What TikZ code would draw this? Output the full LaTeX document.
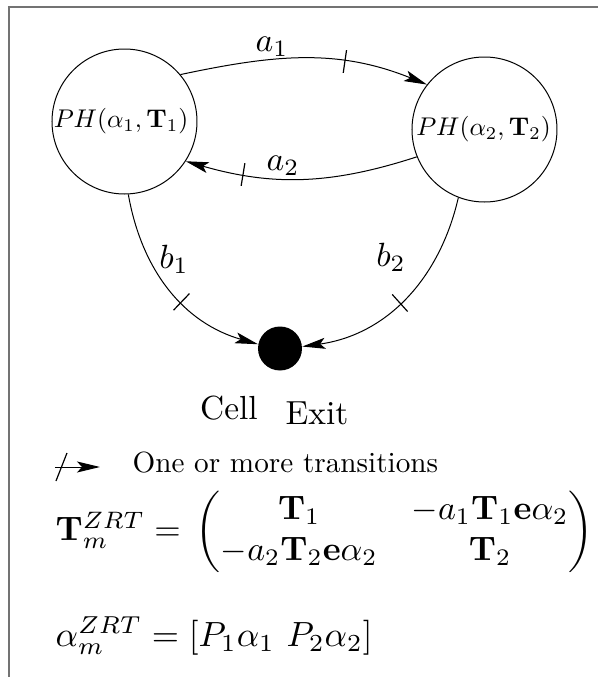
\documentclass[tikz,border=0pt]{standalone}
\usepackage{amsmath,amssymb}
\usepackage{pgf, tikz}
\usetikzlibrary{arrows.meta,decorations.markings}
\pgfdeclarelayer{edgelayer}
\pgfdeclarelayer{nodelayer}
\pgfsetlayers{edgelayer,nodelayer,main}
\tikzstyle{phase}=[circle, fill=white, draw=black, line width=0.5pt, minimum size=72.5pt, inner sep=0pt]
\tikzstyle{phasetext}=[inner sep=0pt, scale=1.28]
\tikzstyle{exitdot}=[circle, fill=black, minimum size=22pt, inner sep=0pt]
\tikzstyle{rate}=[inner sep=0pt, scale=1.68]
\tikzstyle{caption}=[inner sep=0pt, scale=1.67]
\tikzstyle{legendtext}=[inner sep=0pt, anchor=base west, scale=1.46]
\tikzstyle{formula}=[inner sep=0pt, anchor=west, scale=1.75]
\tikzstyle{edge}=[draw=black, line width=0.5pt, -{Stealth[length=11.5pt,width=5.5pt,inset=2.5pt]}]
\tikzstyle{frame}=[draw=black!55, line width=0.75pt]
\tikzset{ticked/.style={postaction={decorate}, decoration={markings, mark=at position #1 with {\draw[-,line width=0.6pt] (0,-5.75pt) -- (0,5.75pt);}}}}
\tikzset{slanttick/.style={postaction={decorate}, decoration={markings, mark=at position #1 with {\draw[-,line width=0.6pt] (-2.75pt,-7pt) -- (2.75pt,7pt);}}}}

\begin{document}
\begin{tikzpicture}[x=0.5pt,y=0.5pt]
	\useasboundingbox (0,0) rectangle (598,677);
	\draw [style=frame] (8,670) -- (598,670);
	\draw [style=frame] (9,670) -- (9,0);
	\begin{pgfonlayer}{nodelayer}
		\node [style=phase] (1) at (124.5, 555.5) {};
		\node [style=phase] (2) at (484.5, 547.5) {};
		\node [style=phasetext] (1t) at (121, 555.5) {$PH(\alpha_1,\mathbf{T}_1)$};
		\node [style=phasetext] (2t) at (483.5, 547.5) {$PH(\alpha_2,\mathbf{T}_2)$};
		\node [style=exitdot] (3) at (280, 328.5) {};
		\node [style=rate] (4) at (272, 630) {$a_1$};
		\node [style=rate] (5) at (283, 511) {$a_2$};
		\node [style=rate] (6) at (174, 418) {$b_1$};
		\node [style=rate] (7) at (391, 420) {$b_2$};
		\node [style=caption] (8) at (229, 269) {Cell};
		\node [style=caption] (9) at (317, 263.5) {Exit};
		\coordinate (10) at (55, 210);
		\coordinate (11) at (100, 210);
		\node [style=legendtext] (12) at (132, 204) {One or more transitions};
		\node [style=formula, scale=0.97] (13) at (55, 145) {$\mathbf{T}_m^{ZRT}=\,\begin{pmatrix}\mathbf{T}_1 & -a_1\mathbf{T}_1\mathbf{e}\alpha_2\\ -a_2\mathbf{T}_2\mathbf{e}\alpha_2 & \mathbf{T}_2\end{pmatrix}$};
		\node [style=formula] (14) at (55, 41) {$\alpha_m^{ZRT}=[P_1\alpha_1\ P_2\alpha_2]$};
	\end{pgfonlayer}
	\begin{pgfonlayer}{edgelayer}
		\draw [style=edge, ticked=0.66] (1.40) to[out=12, in=158] (2.142);
		\draw [style=edge, ticked=0.75] (2.202) to[out=198, in=-16] (1.-33);
		\draw [style=edge, ticked=0.58] (1.-87) to[out=-80, in=164] (3.169);
		\draw [style=edge, ticked=0.53] (2.249) to[out=257, in=8] (3.5);
		\draw [style=edge, slanttick=0.144] (10) -- (11);
	\end{pgfonlayer}
\end{tikzpicture}
\end{document}
